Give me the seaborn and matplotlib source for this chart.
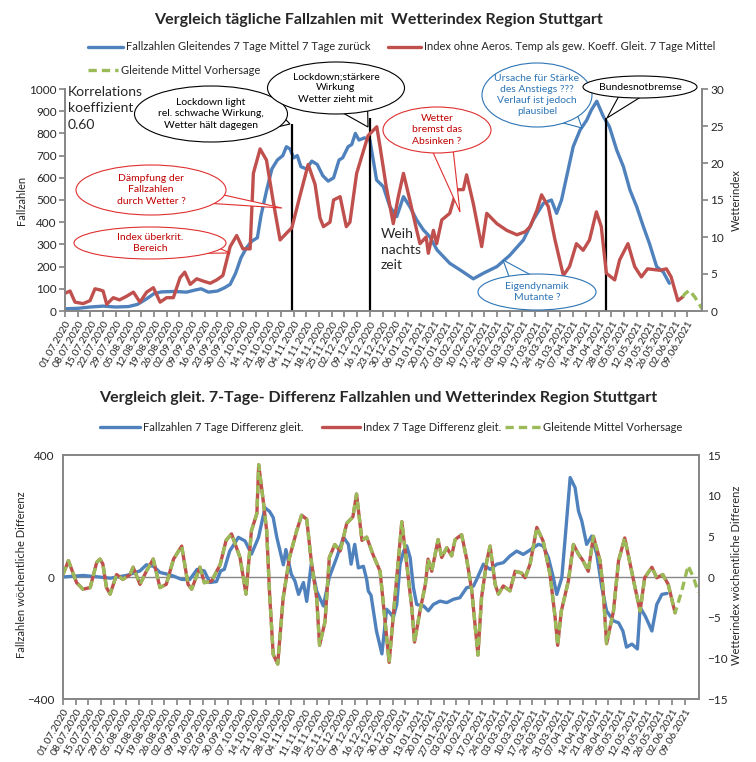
import numpy as np
import pandas as pd
import matplotlib
matplotlib.use("Agg")
import matplotlib.pyplot as plt
import seaborn as sns
from matplotlib.patches import Ellipse, Polygon
from matplotlib.lines import Line2D

# ---- data (days after 01.07.2020) ----
top_blue_day = [0, 7, 14, 21, 28, 35, 40, 45, 49, 53, 60, 67, 72, 75, 79, 84, 88, 91, 94, 97,
                100, 103, 106, 108, 111, 114, 117, 120, 122, 124, 126, 128, 130, 133, 136, 139,
                142, 145, 148, 151, 153, 156, 158, 160, 162, 165, 168, 171.7, 175.4, 179, 182.8,
                186.5, 190, 193.8, 197.5, 201, 205, 212, 217.7, 225, 230.5, 238, 245, 252.6, 258,
                263.6, 268, 270.9, 273.6, 276, 280, 283.8, 287.5, 290, 293, 296.7, 300, 304,
                307.7, 311.3, 315, 318.7, 322, 326, 329.7, 333]
top_blue_val = [10, 12, 18, 22, 18, 20, 30, 55, 78, 86, 88, 85, 95, 100, 85, 90, 105, 120, 170, 240,
                285, 315, 330, 430, 540, 640, 680, 700, 740, 730, 690, 700, 650, 640, 675, 660,
                610, 585, 600, 680, 690, 740, 750, 800, 770, 780, 770, 590, 560, 470, 425,
                515, 470, 410, 365, 335, 275, 215, 185, 145, 170, 200, 250, 320, 410,
                485, 500, 440, 500, 590, 740, 815, 860, 905, 945, 875, 830, 725,
                650, 545, 470, 380, 305, 200, 175, 125]

top_red_day = [0, 2.8, 5.5, 10, 13.8, 16.5, 19.3, 21, 23, 26.6, 30, 34, 37.7, 41.3, 45, 48.7, 52.4,
               56, 59.7, 63.4, 66, 69, 72.6, 76, 80, 83.6, 87, 91, 94.6, 98, 102, 103.8, 107.5,
               111, 114.8, 118.5, 122, 125, 129.5, 134, 137.8, 140.5, 142.4, 146, 148, 151.6, 155,
               157, 160.7, 164.4, 167, 171.8, 173.6, 177, 180.9, 183.7, 186.5, 190, 193.8, 195.6,
               199, 200.2, 203, 204.8, 207.6, 212, 215.8, 219.5, 221.3, 225, 229.6, 232.4, 238,
               243.4, 249, 253.5, 256.3, 260, 262.6, 266.3, 270, 274.6, 278, 281.8, 285.5, 289,
               292.8, 295.5, 298.3, 302.9, 305.6, 310.2, 313.9, 317.6, 321, 327.8, 331.4, 334,
               337.7, 340.4]
top_red_val = [2.4, 2.7, 1.2, 1.0, 1.4, 3.0, 2.85, 2.7, 0.9, 1.8, 1.5, 2.0, 2.55, 1.2, 2.55, 3.15, 1.2,
               1.8, 1.8, 4.5, 5.25, 3.6, 4.35, 4.05, 3.75, 4.2, 4.8, 8.7, 10.2, 8.4, 8.4, 18.6, 21.9,
               20.4, 14.7, 9.6, 10.5, 11.25, 15.6, 19.8, 17.1, 12.6, 11.4, 12.0, 15.0, 15.45, 11.4,
               12.0, 18.6, 21.6, 23.7, 24.9, 22.2, 16.8, 11.8, 15.5, 18.6, 15.0, 10.9, 9.1,
               10.0, 7.8, 10.9, 9.1, 12.3, 13.2, 16.4, 16.4, 18.4, 14.5, 8.7, 13.2, 11.8,
               10.9, 10.3, 10.7, 11.4, 13.6, 15.7, 14.1, 9.6, 4.8, 6.0, 9.1, 8.2, 9.6,
               13.4, 11.4, 5.1, 4.2, 6.9, 9.1, 6.0, 4.6, 5.7, 5.5, 5.7, 4.6,
               1.4, 1.9]

top_fc_day = [340.4, 341.5, 344, 347, 351]
top_fc_val = [1.9, 2.3, 2.8, 1.9, 0.3]

bot_blue_day = [0, 11, 20, 26, 35, 42.5, 46, 50, 53.5, 57, 61, 65.5, 70, 74, 78, 81, 84.7, 87, 89, 92,
                96.8, 100.5, 104, 107.9, 111.5, 114, 116, 118, 121.6, 123, 126, 128, 130, 132.7,
                134.5, 137, 140, 143.7, 147, 151, 154.8, 157.5, 159, 161, 163, 165.8, 167.6, 168.5,
                170, 173, 176, 178.6, 180.4, 182.3, 184.2, 186, 188, 189.7, 191.6, 193.4, 195.2,
                199, 201.6, 204.4, 208, 211.8, 215.5, 219, 222.8, 226.5, 228.3, 232, 235.7, 239.4,
                243, 246.7, 250.4, 254, 256.9, 259.6, 262.4, 265, 267.9, 270.6, 272.5, 275.3, 277,
                279.9, 282.6, 284.5, 286.3, 289, 291.8, 294.6, 297.4, 300, 303.8, 306.6, 309, 311,
                314, 317, 318.5, 321.3, 323, 325, 327.7, 330.5, 333.3]
bot_blue_val = [0, 5, 0, -4, 5, 20, 40, 35, 15, 10, 3, -8, -8, 25, 20, -18, -15, 20, 25, 85,
                130, 118, 75, 130, 227, 215, 195, 130, 40, 90, 9, -13, -57, -18,
                -80, 42, -46, -95, 0, 63, 130, 107, 42, 107, 30, 35, -8, -46,
                -60, -177, -252, -106, -117, -133, -90, 42, 85, 102, 63, -35, -90,
                -95, -111, -90, -79, -84, -73, -68, -35, -30, -8, 42, 25, 42,
                47, 69, 85, 74, 85, 96, 107, 102, 63, -2, -57, -2, 118,
                326, 293, 216, 184, 107, 134, 74, -35, -111, -144, -150, -177, -230,
                -220, -236, -100, -128, -150, -177, -90, -57, -54]

bot_red_day = [0, 3, 7.5, 11, 15, 18.6, 20.4, 22, 24, 26, 29.6, 33, 37, 38.7, 42.5, 46, 49.8, 53.5,
               57, 61, 65.5, 69, 71, 75.6, 78, 82, 86.7, 90, 93, 97.7, 101, 104, 107, 108, 110.6,
               112.4, 114, 116, 118.5, 121.5, 125, 129, 131.7, 134.5, 137, 140, 141.6, 144.6, 147,
               150, 153, 156.6, 160, 162, 165, 167.6, 171, 175, 178, 180, 183, 187, 189.7, 192.5,
               194, 197, 200, 201.5, 203.5, 207, 209, 211.8, 214.5, 216.4, 220, 222.8, 225.6, 229,
               231, 233.9, 235.7, 238.5, 240.3, 243, 246.7, 249.5, 253, 255, 257.8, 261.5, 265,
               268.8, 271.6, 273, 275, 278.9, 281.7, 284.5, 287, 289.9, 292.7, 296.4, 298, 300,
               303.8, 306.6, 310, 313, 315.7, 318.5, 321, 325, 327.7, 331, 334, 337.8]
bot_red_val = [0.3, 2.0, -0.7, -1.5, -1.3, 1.8, 2.2, 1.6, -1.3, -2.1, 0.3, -0.3, 0.3, 1.2, -0.9, 0.7,
               2.2, -1.3, -0.9, 2.2, 3.8, -0.9, -1.5, 1.2, -0.7, -0.5, 1.5, 4.5, 5.3, 2.4, -2.1, 5.7,
               7.8, 13.8, 9.2, 5.7, -2.0, -9.5, -10.7, -2.6, 2.4, 5.7, 7.6, 7.1, 2.0, -2.6, -8.4,
               -5.5, 2.4, 4.0, 3.2, 6.6, 7.4, 10.2, 4.5, 4.9, 2.8, 0.7, -6.0, -10.5, -3.0, 6.8,
               1.6, -3.8, -8.0, -4.2, -0.9, 2.2, 0.7, 4.6, 2.4, 3.6, 2.6, 4.6, 5.2, 2.2, -1.7,
               -9.6, -2.5, 2.0, 3.8, -0.9, -2.1, -1.1, -1.7, 0.7, 0.5, -0.1, 1.6, 6.1, 4.4, 0.3,
               -5.0, -8.4, -4.2, -0.5, 4.0, 2.8, 2.0, 0.7, 5.0, 2.0, -1.3, -8.2, -4.2, 2.0, 4.8,
               1.6, -1.3, -4.2, -0.1, 1.2, -0.1, 0.3, -0.9, -4.4]

bot_fc_day = [341.5, 345, 348, 350.6]
bot_fc_val = [-1.7, 1.4, -0.1, -1.9]

event_day = [125, 168, 298]
event_top = [842, 870, 870]

start = pd.Timestamp("2020-07-01")
def to_date(days):
    return start + pd.to_timedelta(np.array(days, dtype=float), unit="D")

BLUE = "#4F81BD"
RED = "#C0504D"
GREEN = "#9BBB59"
GRAY = "#868686"

sns.set_theme(style="white")
plt.rcParams["font.family"] = ["Liberation Sans Narrow", "Lato", "DejaVu Sans"]

W, H = 756, 762
fig = plt.figure(figsize=(W / 100, H / 100), dpi=100)

def px(x, y):
    return x / W, 1 - y / H

def box(l, t, r, b):
    return [l / W, 1 - b / H, (r - l) / W, (b - t) / H]

tick_dates = pd.date_range("2020-07-01", "2021-06-09", freq="7D")
tick_labels = [d.strftime("%d.%m.%Y") for d in tick_dates]
xmin, xmax = start, start + pd.Timedelta(days=351)

def style_x(ax):
    ax.set_xlim(xmin, xmax)
    ax.set_xticks(tick_dates)
    ax.set_xticklabels(tick_labels, rotation=60, ha="right", va="top",
                       rotation_mode="anchor", fontsize=7.5)
    ax.tick_params(axis="x", length=4, color=GRAY, pad=2, bottom=True)
    ax.set_xlabel("")

# ---------------- top chart ----------------
ax1 = fig.add_axes(box(65, 89, 702, 311))
ax1r = ax1.twinx()
sns.lineplot(x=to_date(top_blue_day), y=top_blue_val, ax=ax1, color=BLUE, lw=2.4)
sns.lineplot(x=to_date(top_red_day), y=top_red_val, ax=ax1r, color=RED, lw=2.4)
sns.lineplot(x=to_date(top_fc_day), y=top_fc_val, ax=ax1r, color=GREEN, lw=2.4,
             linestyle=(0, (2.5, 1.5)))
ax1.vlines(to_date(event_day), 0, event_top, color="black", lw=1.6, zorder=5)
ax1.set_ylim(0, 1000)
ax1.set_yticks(range(0, 1001, 100))
ax1r.set_ylim(0, 30)
ax1r.set_yticks(range(0, 31, 5))
style_x(ax1)
for a in (ax1, ax1r):
    a.tick_params(axis="y", labelsize=8.5, length=4, color=GRAY, pad=2)
    a.spines["top"].set_visible(False)
    for s in ("left", "right", "bottom"):
        a.spines[s].set_color(GRAY)
ax1.tick_params(axis="y", left=True)
ax1r.tick_params(axis="y", right=True)
ax1.set_ylabel("")
ax1r.set_ylabel("")

# ---------------- bottom chart ----------------
ax2 = fig.add_axes(box(63, 455, 699, 699))
ax2r = ax2.twinx()
ax2.axhline(0, color=GRAY, lw=1.0, zorder=1)
sns.lineplot(x=to_date(bot_blue_day), y=bot_blue_val, ax=ax2, color=BLUE, lw=2.4)
sns.lineplot(x=to_date(bot_red_day), y=bot_red_val, ax=ax2r, color=RED, lw=2.4)
sns.lineplot(x=to_date(bot_red_day + bot_fc_day), y=bot_red_val + bot_fc_val, ax=ax2r,
             color=GREEN, lw=2.4, linestyle=(0, (2.5, 1.5)))
ax2.set_ylim(-400, 400)
ax2.set_yticks([-400, 0, 400])
ax2r.set_ylim(-15, 15)
ax2r.set_yticks(range(-15, 16, 5))
style_x(ax2)
for a in (ax2, ax2r):
    a.tick_params(axis="y", labelsize=8.5, length=0, pad=6)
    for s in a.spines.values():
        s.set_color(GRAY)
ax2.set_ylabel("")
ax2r.set_ylabel("")

# ---------------- titles, axis labels ----------------
fig.text(*px(378, 20), "Vergleich tägliche Fallzahlen mit  Wetterindex Region Stuttgart",
         ha="center", va="center", fontsize=11.5, fontweight="bold")
fig.text(*px(378, 398), "Vergleich gleit. 7-Tage- Differenz Fallzahlen und Wetterindex Region Stuttgart",
         ha="center", va="center", fontsize=11.5, fontweight="bold")
fig.text(*px(22, 200), "Fallzahlen", rotation=90, ha="center", va="center", fontsize=8)
fig.text(*px(736, 200), "Wetterindex", rotation=90, ha="center", va="center", fontsize=8)
fig.text(*px(22, 575), "Fallzahlen wöchentliche Differenz", rotation=90, ha="center",
         va="center", fontsize=8)
fig.text(*px(736, 575), "Wetterindex wöchentliche Differenz", rotation=90, ha="center",
         va="center", fontsize=8)

# ---------------- legends (drawn by hand) ----------------
def legend_item(x0, x1, y, color, label, dashed=False):
    (ax_, ay), (bx, by) = px(x0, y), px(x1, y)
    ls = (0, (2.5, 1.5)) if dashed else "-"
    fig.add_artist(Line2D([ax_, bx], [ay, by], color=color, lw=2.4, ls=ls,
                          transform=fig.transFigure))
    fig.text(*px(x1 + 3, y), label, ha="left", va="center", fontsize=8)

legend_item(88, 123, 47, BLUE, "Fallzahlen Gleitendes 7 Tage Mittel 7 Tage zurück")
legend_item(388, 421, 47, RED, "Index ohne Aeros. Temp als gew. Koeff. Gleit. 7 Tage Mittel")
legend_item(88, 118, 70, GREEN, "Gleitende Mittel Vorhersage", dashed=True)
legend_item(100, 140, 427, BLUE, "Fallzahlen 7 Tage Differenz gleit.")
legend_item(322, 360, 427, RED, "Index 7 Tage Differenz gleit.")
legend_item(505, 540, 427, GREEN, "Gleitende Mittel Vorhersage", dashed=True)

# ---------------- annotations ----------------
def bubble(cx, cy, w, h, text, edge, tip, tcolor=None, fs=7.5):
    a = np.arctan2((tip[1] - cy) / (h / 2), (tip[0] - cx) / (w / 2))
    base = [(cx + 0.48 * w * np.cos(a + d), cy + 0.48 * h * np.sin(a + d)) for d in (-0.2, 0.2)]
    fig.add_artist(Polygon([px(*base[0]), px(*tip), px(*base[1])], closed=True,
                           transform=fig.transFigure, fc="white", ec=edge, lw=0.8))
    fig.add_artist(Ellipse(px(cx, cy), w / W, h / H, transform=fig.transFigure,
                           fc="white", ec=edge, lw=0.8))
    fig.text(*px(cx, cy), text, ha="center", va="center", fontsize=fs,
             color=tcolor or edge, linespacing=1.3)

bubble(211, 114, 153, 56, "Lockdown light\nrel. schwache Wirkung,\nWetter hält dagegen",
       "black", (290, 124))
bubble(336, 88, 137, 52, "Lockdown;stärkere\nWirkung\nWetter zieht mit", "black", (368, 127))
bubble(151, 190, 150, 50, "Dämpfung der\nFallzahlen\ndurch Wetter ?", "#E03030", (282, 208),
       tcolor="#C00000")
bubble(150, 243, 152, 32, "Index überkrit.\nBereich", "#E03030", (230, 253), tcolor="#C00000")
bubble(437, 130, 108, 46, "Wetter\nbremst das\nAbsinken ?", "#E03030", (460, 212),
       tcolor="#C00000")
bubble(537, 95, 110, 64, "Ursache für Stärke\ndes Anstiegs ???\nVerlauf ist jedoch\nplausibel",
       "#2E75B6", (582, 128))
bubble(640, 87, 114, 22, "Bundesnotbremse", "black", (607, 118))
bubble(537, 292, 118, 36, "Eigendynamik\nMutante ?", "#2E75B6", (503, 260))

fig.text(*px(381, 228), "Weih\nnachts\nzeit", ha="left", va="top", fontsize=10, linespacing=1.35)
fig.text(*px(68, 86), "Korrelations\nkoeffizient\n0.60", ha="left", va="top", fontsize=10,
         linespacing=1.45)

fig.savefig("out.png", dpi=100)
